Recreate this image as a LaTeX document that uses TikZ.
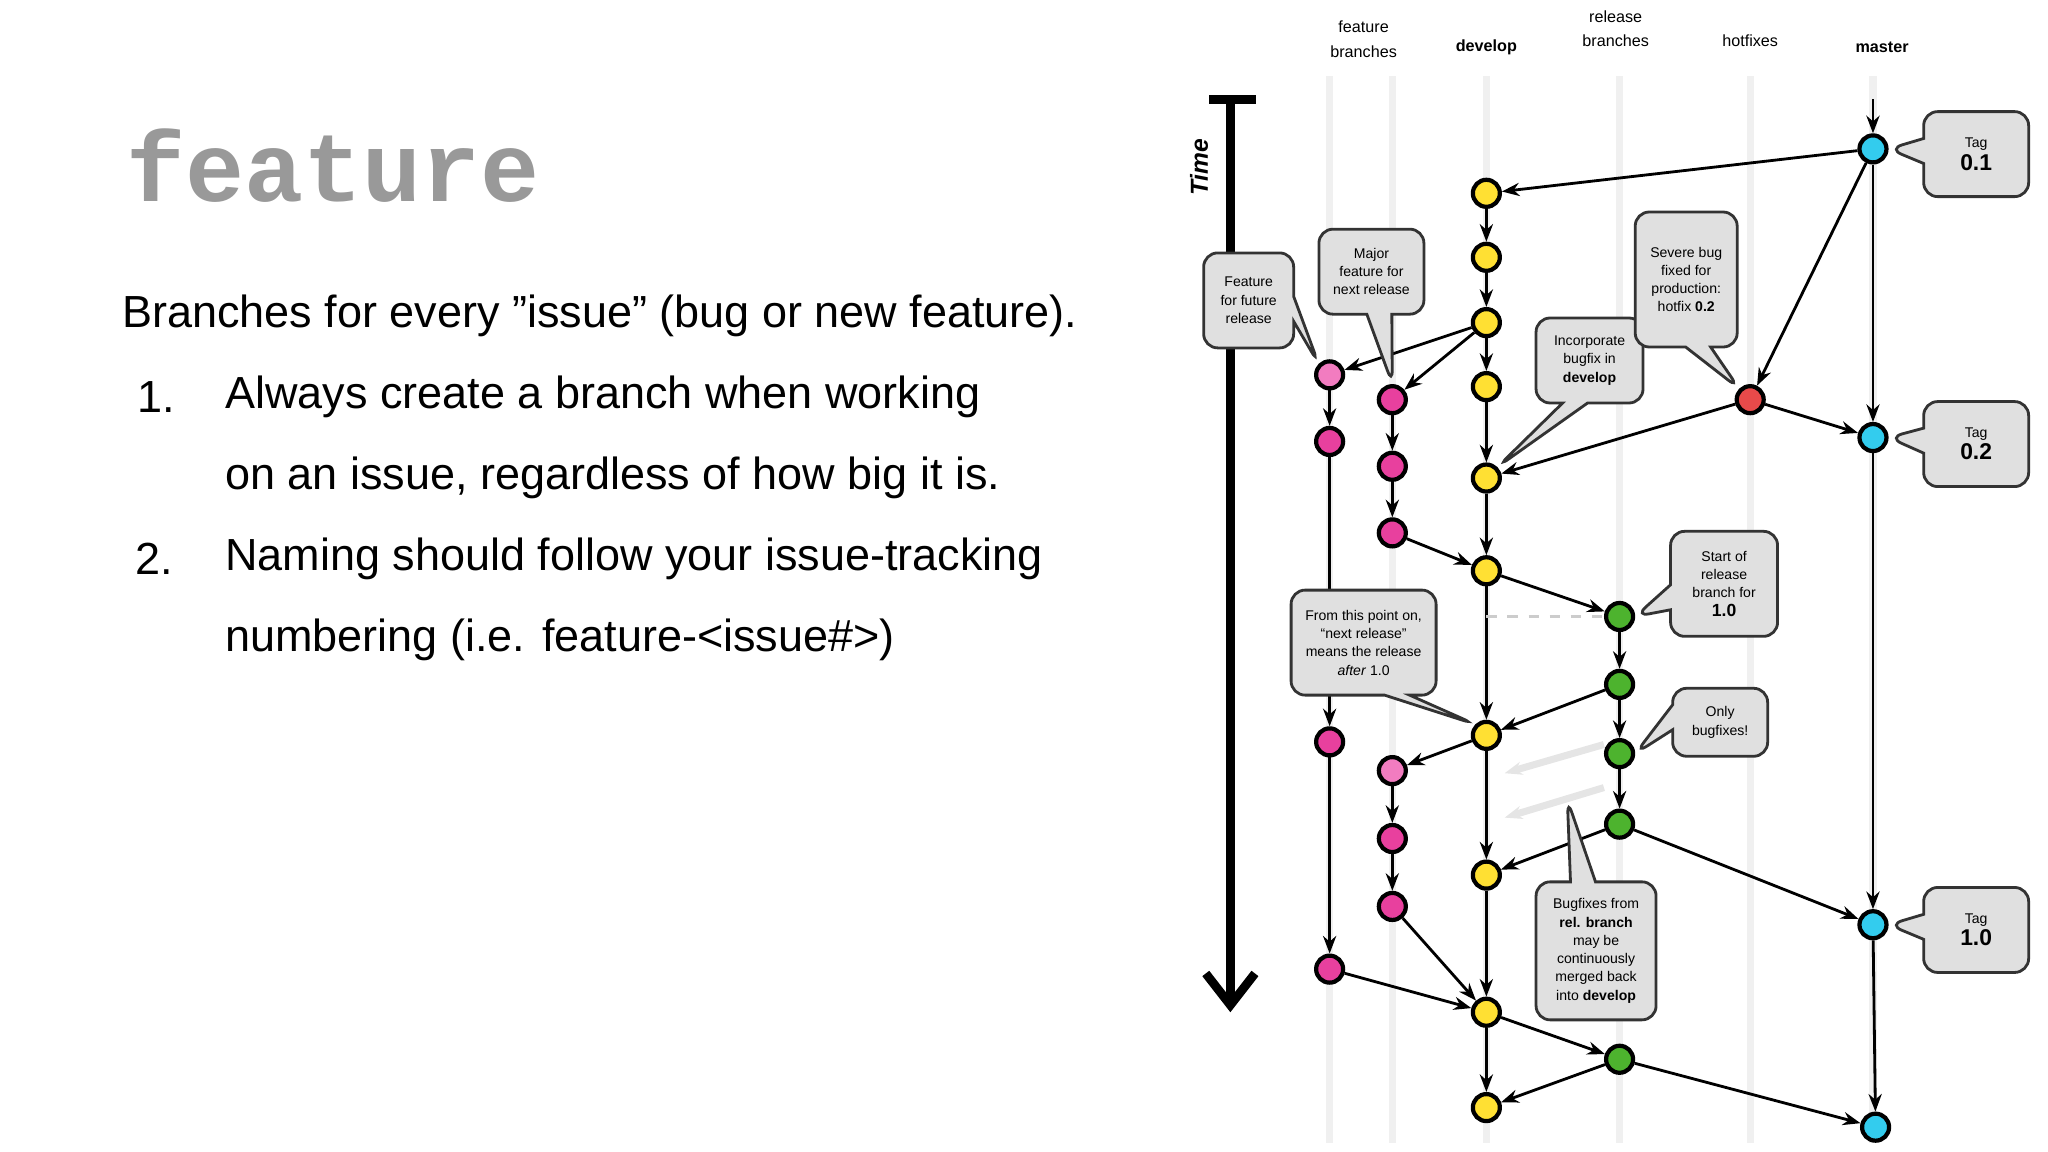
\documentclass[tikz,border=0pt]{standalone}
\usepackage{fontspec}
\setmainfont{Liberation Sans}
\newfontfamily\monofont{Liberation Mono}
\usetikzlibrary{arrows.meta,shapes.callouts}
\definecolor{cdev}{HTML}{FFE033}
\definecolor{cfeat}{HTML}{E8409E}
\definecolor{cfeatl}{HTML}{F27CC0}
\definecolor{cmaster}{HTML}{33CCEE}
\definecolor{crel}{HTML}{4DB32E}
\definecolor{chot}{HTML}{E84A4A}
\newcommand{\qt}{\symbol{34}}
\tikzset{ c/.style = { circle
                       , draw
                       , very thick
                       , inner sep    = 0pt
                       , minimum size = 0.27cm
                       },
          lane/.style = { line width = 2pt
                        , black!6
                        },
          e/.style = { -{Stealth[length=5pt]}
                     , thick
                     },
          txt/.style = { anchor = west
                       , inner sep = 0pt
                       , font = \fontsize{12.8}{14}\selectfont
                       },
          note/.style = { rectangle callout
                        , draw = black!80
                        , thick
                        , fill = black!12
                        , rounded corners = 4pt
                        , align = center
                        , font = \fontsize{4}{5.2}\selectfont
                        , inner sep = 2pt
                        },
          hd/.style = { align = center
                      , font = \fontsize{4.6}{7}\selectfont
                      }
        }
\begin{document}
\begin{tikzpicture}[x=0.01306cm, y=-0.01306cm]
  \useasboundingbox (0,0) rectangle (1568,882);
  % left text
  \node[txt, text=black!40, font=\monofont\bfseries\fontsize{28}{30}\selectfont] (title) at (96,127) {feature};
  \node[txt] (t0) at (93,242) {Branches for every \qt issue\qt\ (bug or new feature).};
  \node[txt] (n1) at (105,304) {1.};
  \node[txt] (t1) at (172,304) {Always create a branch when working};
  \node[txt] (t2) at (172,366) {on an issue, regardless of how big it is.};
  \node[txt] (n2) at (103,428) {2.};
  \node[txt] (t3) at (172,428) {Naming should follow your issue-tracking};
  \node[txt] (t4) at (172,490) {numbering (i.e. feature-<issue\#>)};
  % lanes
  \foreach \x in {1018,1066,1138,1240,1340,1434}
    \draw[lane] (\x,58) -- (\x,875);
  % headers
  \node[hd] (hf) at (1044,30) {feature\\branches};
  \node[hd, font=\bfseries\fontsize{4.6}{7}\selectfont] (hd) at (1138,36) {develop};
  \node[hd] (hr) at (1237,22) {release\\branches};
  \node[hd] (hh) at (1340,31) {hotfixes};
  \node[hd, font=\bfseries\fontsize{4.6}{7}\selectfont] (hm) at (1441,36) {master};
  % time
  \coordinate (ts) at (942,76);
  \coordinate (te) at (942,775);
  \draw[line width=2.5pt, -{Straight Barb[length=9pt,width=14pt]}] (ts) -- (te);
  \draw[line width=2.5pt] (926,76) -- (962,76);
  \node[rotate=90, font=\bfseries\itshape\fontsize{7}{8}\selectfont] (time) at (918,128) {Time};
  % commits
  \node[c, fill=cmaster] (m1) at (1434,114) {};
  \node[c, fill=cmaster] (m2) at (1434,335) {};
  \node[c, fill=cmaster] (m3) at (1434,708) {};
  \node[c, fill=cmaster] (m4) at (1436,863) {};
  \node[c, fill=chot] (h1) at (1340,306) {};
  \foreach \n/\y in {1/148,2/197,3/247,4/296,5/366,6/437,7/563,8/670,9/775,10/848}
    \node[c, fill=cdev] (d\n) at (1138,\y) {};
  \foreach \n/\y in {1/472,2/524,3/577,4/631,5/811}
    \node[c, fill=crel] (r\n) at (1240,\y) {};
  \node[c, fill=cfeatl] (f1) at (1018,287) {};
  \foreach \n/\y in {2/338,3/568,4/742}
    \node[c, fill=cfeat] (f\n) at (1018,\y) {};
  \node[c, fill=cfeat] (g1) at (1066,306) {};
  \node[c, fill=cfeat] (g2) at (1066,357) {};
  \node[c, fill=cfeat] (g3) at (1066,408) {};
  \node[c, fill=cfeatl] (g4) at (1066,590) {};
  \node[c, fill=cfeat] (g5) at (1066,642) {};
  \node[c, fill=cfeat] (g6) at (1066,694) {};
  % connectors
  \coordinate (m0) at (1434,76);
  \draw[e] (m0) -- (m1);
  \foreach \a/\b in {m1/d1, d1/d2, d2/d3, d3/d4, d4/d5, d5/d6, d6/d7, d7/d8, d8/d9, d9/d10,
                     m1/h1, h1/m2, h1/d5, m1/m2, m2/m3, m3/m4,
                     d3/f1, d3/g1, f1/f2, g1/g2, g2/g3, g3/d6, f2/f3, f3/f4, f4/d9,
                     d6/r1, r1/r2, r2/r3, r3/r4, r2/d7, r4/d8, r4/m3,
                     d7/g4, g4/g5, g5/g6, g6/d9, d9/r5, r5/d10, r5/m4}
    \draw[e] (\a) -- (\b);
  \draw[black!20, dashed, thick] (d6 |- r1) -- (r1);
  \coordinate (ga) at (1228,570); \coordinate (gb) at (1152,592);
  \coordinate (gc) at (1228,603); \coordinate (gd) at (1152,626);
  \draw[e, black!10, line width=2pt] (ga) -- (gb);
  \draw[e, black!10, line width=2pt] (gc) -- (gd);
  % notes
  \node[note, minimum width=1.05cm, minimum height=0.85cm, callout absolute pointer={(m1.east)}] (tag1) at (1513,118) {Tag\\{\fontsize{6.5}{7}\selectfont\bfseries 0.1}};
  \node[note, minimum width=1.05cm, minimum height=0.85cm, callout absolute pointer={(m2.east)}] (tag2) at (1513,340) {Tag\\{\fontsize{6.5}{7}\selectfont\bfseries 0.2}};
  \node[note, minimum width=1.05cm, minimum height=0.85cm, callout absolute pointer={(m3.east)}] (tag3) at (1513,712) {Tag\\{\fontsize{6.5}{7}\selectfont\bfseries 1.0}};
  \node[note, minimum width=0.9cm, minimum height=0.95cm, callout absolute pointer={(f1.north west)}] (nf) at (956,230) {Feature\\for future\\release};
  \node[note, minimum width=1.05cm, minimum height=0.85cm, callout absolute pointer={(g1.north)}] (ng) at (1050,208) {Major\\feature for\\next release};
  \node[note, minimum width=1.07cm, minimum height=0.85cm, callout absolute pointer={(d5.north east)}] (nb) at (1217,276) {Incorporate\\bugfix in\\\textbf{develop}};
  \node[note, minimum width=1.02cm, minimum height=1.35cm, callout absolute pointer={(h1.north west)}] (nh) at (1291,214) {Severe bug\\fixed for\\production:\\hotfix \textbf{0.2}};
  \node[note, minimum width=1.07cm, minimum height=1.05cm, callout absolute pointer={(r1.east)}] (nr) at (1320,447) {Start of\\release\\branch for\\{\fontsize{5}{6}\selectfont\bfseries 1.0}};
  \node[note, minimum width=1.45cm, minimum height=1.05cm, callout absolute pointer={(d7.north west)}] (nn) at (1044,492) {From this point on,\\``next release''\\means the release\\\textit{after} 1.0};
  \node[note, minimum width=0.95cm, minimum height=0.68cm, callout absolute pointer={(r3.east)}] (no) at (1317,553) {Only\\bugfixes!};
  \coordinate (bp) at (1200,612);
  \node[note, minimum width=1.2cm, minimum height=1.38cm, callout absolute pointer={(bp)}] (nbf) at (1222,728) {Bugfixes from\\\textbf{rel. branch}\\may be\\continuously\\merged back\\into \textbf{develop}};
\end{tikzpicture}
\end{document}
